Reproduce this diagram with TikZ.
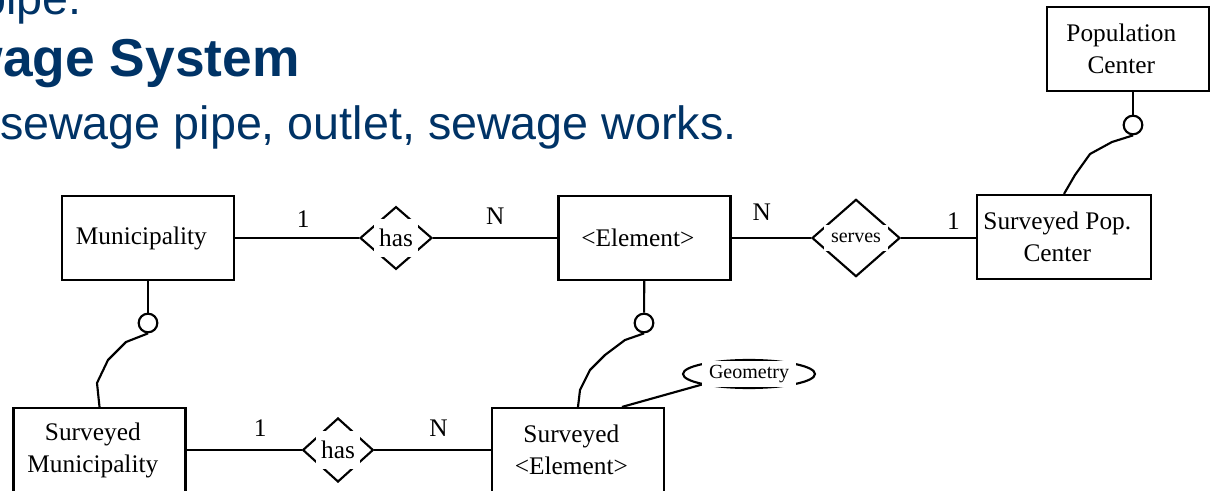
\documentclass[tikz,border=0pt]{standalone}
\usepackage{fontspec}
\setmainfont{Liberation Serif}
\newfontfamily\slidefont{Liberation Sans}
\usetikzlibrary{shapes.geometric,calc}
\definecolor{SlideNavy}{HTML}{003366}
\definecolor{DiagInk}{HTML}{000000}

\begin{document}
\begin{tikzpicture}[x=0.75pt,y=-0.75pt,
  link/.style={draw=DiagInk,line width=1.6pt,line join=round},
  entity/.style={draw=DiagInk,line width=1.6pt,minimum width=129pt,minimum height=63pt,inner sep=0pt,label={[etext]center:#1}},
  etext/.style={align=center,xshift=-5pt,font=\fontsize{19}{24}\selectfont},
  rel/.style={diamond,draw=DiagInk,line width=1.6pt,inner sep=0pt,label={[reltext]center:#1}},
  reltext/.style={fill=white,inner xsep=4pt,minimum height=28pt,font=\fontsize{19}{22}\selectfont},
  smalltext/.style={fill=white,inner xsep=5pt,minimum height=20pt,font=\fontsize{15}{18}\selectfont},
  card/.style={inner sep=2pt,font=\fontsize{19}{22}\selectfont},
  optc/.style={circle,draw=DiagInk,line width=1.6pt,minimum size=14pt,inner sep=0pt},
  attr/.style={ellipse,draw=DiagInk,line width=1.6pt,minimum width=99pt,minimum height=21pt,inner sep=0pt,label={[smalltext]center:#1}},
  slide/.style={anchor=base east,inner sep=0pt,text=SlideNavy}]
\useasboundingbox (0,0) rectangle (1210,491);
\clip (0,0) rectangle (1210,491);
\fill[white] (0,0) rectangle (1210,491);
% slide heading, cut at the left
\node[slide,font=\slidefont\fontsize{35}{42}\selectfont] (pipe) at (82,15) {pipe.};
\node[slide,font=\slidefont\bfseries\fontsize{40}{48}\selectfont] (sys) at (300,77) {wage System};
\node[slide,font=\slidefont\fontsize{35}{42}\selectfont] (elems) at (737,140) {sewage pipe, outlet, sewage works.};
% entities
\node[entity={Municipality}] (muni) at (148,238) {};
\node[entity={<Element>}] (elem) at (644.5,238) {};
\node[entity={Surveyed Pop.\\Center},minimum width=130.5pt] (spop) at (1064,237) {};
\node[entity={Population\\Center},minimum width=121.5pt] (popc) at (1128,49) {};
\node[entity={Surveyed\\Municipality}] (smuni) at (99.5,450) {};
\node[entity={Surveyed\\<Element>}] (sel) at (578,450) {};
% relationships
\node[rel=has,minimum width=54pt,minimum height=47pt] (has1) at (396,238) {};
\node[rel={},minimum width=66pt,minimum height=58pt,label={[smalltext]center:serves}] (serves) at (856,238) {};
\node[rel=has,minimum width=53pt,minimum height=48pt] (has2) at (338,450) {};
\node[attr=Geometry] (geo) at (749,374) {};
% connectors
\draw[link] (muni) -- node[card,pos=.55,above=4.75pt] (c1) {1} (has1);
\draw[link] (has1) -- node[card,pos=.5,above=7pt] (c2) {N} (elem);
\draw[link] (elem) -- node[card,pos=.38,above=10.5pt] (c3) {N} (serves);
\draw[link] (serves) -- node[card,pos=.7,above=3.25pt] (c4) {1} (spop.west |- serves);
\draw[link] (smuni) -- node[card,pos=.64,above=7pt] (c5) {1} (has2);
\draw[link] (has2) -- node[card,pos=.55,above=7pt] (c6) {N} (sel);
% subtype links
\node[optc] (mopt) at (148,323) {};
\node[optc] (eopt) at (644,323) {};
\node[optc] (popt) at (1133,125) {};
\draw[link] (muni) -- (mopt);
\draw[link] (mopt.south) -- (126,342) -- (108,360) -- (97,383) -- (smuni.north);
\draw[link] (elem) -- (eopt);
\draw[link] (eopt.south) -- (625,340) -- (605,355) -- (590,370) -- (580,390) -- (sel.north);
\draw[link] (popt) -- (popt |- popc.south);
\draw[link] (popt.south) -- (1112,142) -- (1090,154) -- (1075,175) -- (spop.north);
\draw[link] (geo.south west) -- ($(sel.north)+(44,0)$);
\end{tikzpicture}
\end{document}
